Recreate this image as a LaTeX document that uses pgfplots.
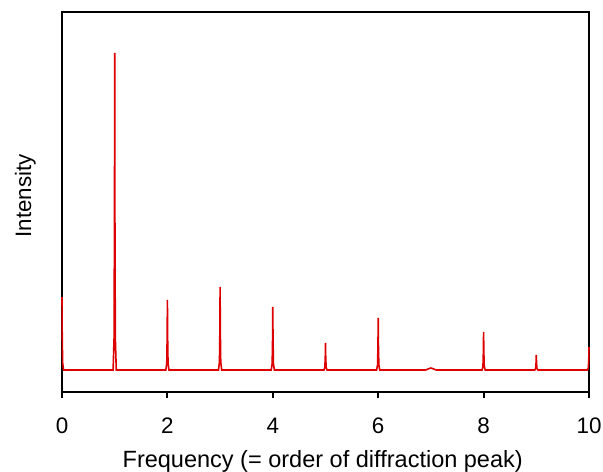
\documentclass[border=0pt]{standalone}
\usepackage{pgfplots}
\pgfplotsset{compat=1.18}
\usepackage{fontspec}
\setmainfont{Liberation Sans}
\definecolor{peakred}{RGB}{222,0,0}
\begin{document}
\begin{tikzpicture}
\begin{axis}[
  scale only axis,
  width=527bp, height=380bp,
  at={(0,0)}, anchor=south west,
  xmin=0, xmax=10, ymin=0, ymax=380,
  xtick={0,2,4,6,8,10},
  ytick=\empty,
  xtick align=outside,
  xtick pos=bottom,
  major tick length=6bp,
  axis line style={line width=2.2bp},
  every tick/.style={black, line width=2bp},
  /pgf/number format/assume math mode=true,
  tick label style={font=\fontsize{22.5}{26}\selectfont},
  xticklabel style={anchor=base, yshift=-35bp},
  xlabel={Frequency (= order of diffraction peak)},
  ylabel={Intensity},
  xlabel style={font=\fontsize{23.6}{27}\selectfont, at={(axis description cs:0.4947,-0.1974)}, anchor=base},
  ylabel style={font=\fontsize{22.4}{27}\selectfont, at={(axis description cs:-0.0588,0.516)}, anchor=base, rotate=0},
  clip=false,
]
\addplot[peakred, line width=1.6bp] coordinates {
(0,95) (0.004,58.5) (0.012,29.3) (0.03,22)
(0.97,22) (0.988,53.7) (0.996,180.5) (1,339) (1.004,180.5) (1.012,53.7) (1.03,22)
(1.97,22) (1.988,29) (1.996,57) (2,92) (2.004,57) (2.012,29) (2.03,22)
(2.97,22) (2.988,30.3) (2.996,63.5) (3,105) (3.004,63.5) (3.012,30.3) (3.03,22)
(3.97,22) (3.988,28.3) (3.996,53.5) (4,85) (4.004,53.5) (4.012,28.3) (4.03,22)
(4.97,22) (4.988,24.7) (4.996,35.5) (5,49) (5.004,35.5) (5.012,24.7) (5.03,22)
(5.97,22) (5.988,27.2) (5.996,48) (6,74) (6.004,48) (6.012,27.2) (6.03,22)
(6.9,22) (6.97,23.5) (7,24) (7.03,23.5) (7.1,22)
(7.97,22) (7.988,25.8) (7.996,41) (8,60) (8.004,41) (8.012,25.8) (8.03,22)
(8.97,22) (8.988,23.5) (8.996,29.5) (9,37) (9.004,29.5) (9.012,23.5) (9.03,22)
(9.97,22) (9.988,24.3) (9.996,33.5) (10,45)
};
\end{axis}
\pgfresetboundingbox
\path[use as bounding box] (-62bp,-80bp) rectangle (541bp,392bp);
\end{tikzpicture}
\end{document}
